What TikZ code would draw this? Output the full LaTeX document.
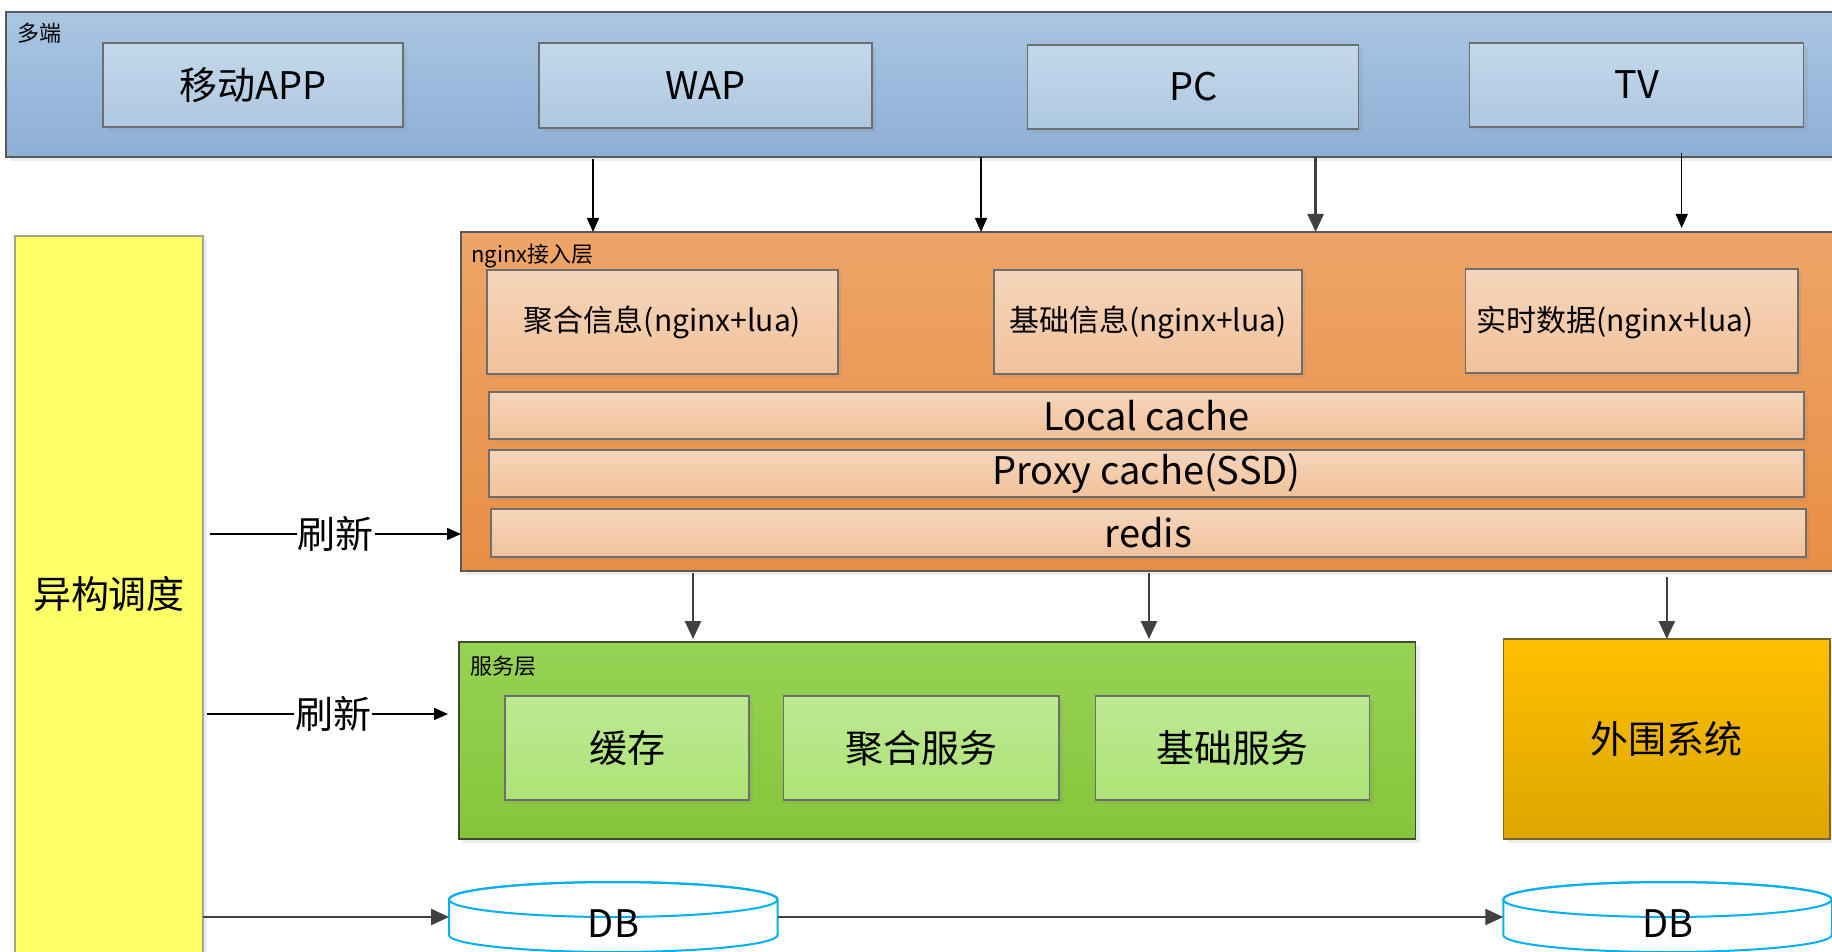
\documentclass[tikz,border=0pt]{standalone}
\usepackage{fontspec}
\setmainfont{Noto Sans CJK SC}
\usetikzlibrary{arrows.meta,shadows}
\definecolor{bord}{HTML}{595959}
\definecolor{inbord}{HTML}{6E6E6E}
\definecolor{blueT}{HTML}{A9C6E2}
\definecolor{blueB}{HTML}{8EAFD5}
\definecolor{bluiT}{HTML}{C4D8EB}
\definecolor{bluiB}{HTML}{AEC8E1}
\definecolor{orT}{HTML}{EDA568}
\definecolor{orB}{HTML}{E88E45}
\definecolor{peT}{HTML}{F6D5BA}
\definecolor{peB}{HTML}{F1C29B}
\definecolor{grT}{HTML}{96D254}
\definecolor{grB}{HTML}{84C63A}
\definecolor{grbord}{HTML}{3F4A30}
\definecolor{lgT}{HTML}{BEE993}
\definecolor{lgB}{HTML}{ACE376}
\definecolor{yel}{HTML}{FFFF66}
\definecolor{yelbord}{HTML}{A5A58A}
\definecolor{exT}{HTML}{FFC000}
\definecolor{exB}{HTML}{DDA600}
\definecolor{exbord}{HTML}{7A6530}
\definecolor{dbc}{HTML}{00B0F0}
\definecolor{arrg}{HTML}{404040}
\newcommand\mydbcyl[1]{%
  \draw[dbline, fill=white] (#1-164.25,899.5) -- (#1-164.25,935)
    arc[start angle=180, end angle=0, x radius=164.25, y radius=17]
    -- (#1+164.25,899.5)
    arc[start angle=0, end angle=-180, x radius=164.25, y radius=17.5] -- cycle;
  \draw[dbline] (#1,899.5) ellipse[x radius=164.25, y radius=17.5];}
\begin{document}
\begin{tikzpicture}[x=1pt,y=-1pt,
  big/.style={font=\fontsize{38pt}{40pt}\selectfont},
  mid/.style={font=\fontsize{30pt}{32pt}\selectfont},
  small/.style={font=\fontsize{22pt}{24pt}\selectfont},
  boxbase/.style={rectangle, inner sep=0pt, outer sep=0pt, line width=1.3pt, draw=bord},
  shd/.style={drop shadow={opacity=0.14, shadow xshift=4pt, shadow yshift=-4pt}},
  bluebox/.style={boxbase, top color=blueT, bottom color=blueB, shd},
  blueinner/.style={boxbase, draw=inbord, top color=bluiT, bottom color=bluiB, shd, big},
  orbox/.style={boxbase, top color=orT, bottom color=orB, shd},
  peinner/.style={boxbase, draw=inbord, top color=peT, bottom color=peB, shd},
  grbox/.style={boxbase, draw=grbord, top color=grT, bottom color=grB, shd},
  lginner/.style={boxbase, draw=inbord, top color=lgT, bottom color=lgB, shd, big},
  yelbox/.style={boxbase, draw=yelbord, fill=yel, shd},
  extbox/.style={boxbase, draw=exbord, top color=exT, bottom color=exB, shd, big},
  dbline/.style={draw=dbc, line width=2pt},
  barr/.style={draw=black, line width=1.5pt, -{Triangle[length=14pt,width=12pt]}},
  garr/.style={draw=arrg, line width=2.5pt, -{Triangle[length=18pt,width=16pt]}},
  lbl/.style={fill=white, inner sep=1pt, big},
  tag/.style={anchor=west, inner sep=0pt, small}
]
\useasboundingbox (0,0) rectangle (1832,952);
\clip (0,0) rectangle (1832,952);
\fill[white] (0,0) rectangle (1832,952);

% client layer
\node[bluebox, minimum width=1839pt, minimum height=145pt] (dd) at (925.5,84.5) {};
\node[tag] (ddt) at (17,33) {多端};
\node[blueinner, minimum width=300pt, minimum height=84pt] (app) at (253,85) {移动APP};
\node[blueinner, minimum width=333pt, minimum height=85pt] (wap) at (705.5,85.5) {WAP};
\node[blueinner, minimum width=331pt, minimum height=84pt] (pc) at (1193.3,87) {PC};
\node[blueinner, minimum width=334pt, minimum height=84pt] (tv) at (1636.6,85) {TV};

% nginx layer
\node[orbox, minimum width=1384pt, minimum height=339pt] (ng) at (1153,401.5) {};
\node[tag] (ngt) at (471,256) {nginx接入层};
\node[peinner, mid, minimum width=351pt, minimum height=104pt] (jh) at (662.5,322) {聚合信息(nginx+lua)};
\node[peinner, mid, minimum width=308pt, minimum height=104pt] (jc) at (1148,322) {基础信息(nginx+lua)};
\node[peinner, mid, minimum width=332.5pt, minimum height=104pt] (ss) at (1631.75,321) {};
\node[mid, inner sep=0pt] (sst) at (1615,323) {实时数据(nginx+lua)};
\node[peinner, big, minimum width=1315pt, minimum height=47pt] (lc) at (1146.5,415.5) {Local cache};
\node[peinner, big, minimum width=1315pt, minimum height=47pt] (pxc) at (1146.5,473.5) {Proxy cache(SSD)};
\node[peinner, big, minimum width=1315pt, minimum height=48pt] (rd) at (1148.5,533) {redis};

% scheduler
\node[yelbox, minimum width=188pt, minimum height=724pt] (ys) at (109,598) {};
\node[big, inner sep=0pt] (yst) at (109,594) {异构调度};

% service layer
\node[grbox, minimum width=956.7pt, minimum height=197pt] (fw) at (937.35,740.5) {};
\node[tag] (fwt) at (470,666) {服务层};
\node[lginner, minimum width=244pt, minimum height=104pt] (hc) at (627,748) {缓存};
\node[lginner, minimum width=275.5pt, minimum height=104pt] (jhfw) at (921.25,748) {聚合服务};
\node[lginner, minimum width=274pt, minimum height=104pt] (jcfw) at (1232.55,748) {基础服务};

% external
\node[extbox, minimum width=326.4pt, minimum height=200pt] (ext) at (1666.8,739) {外围系统};

% databases
\mydbcyl{613.25}
\mydbcyl{1667.5}
\node[minimum width=328.5pt, minimum height=70pt, inner sep=0pt, outer sep=0pt] (db1) at (613.25,917) {};
\node[minimum width=328.5pt, minimum height=70pt, inner sep=0pt, outer sep=0pt] (db2) at (1667.5,917) {};
\node[big, inner sep=0pt] (db1t) at (613.5,924) {DB};
\node[big, inner sep=0pt] (db2t) at (1667.7,924) {DB};

% helper x positions
\coordinate (a1) at (593,0);
\coordinate (a2) at (981,0);
\coordinate (a3) at (1315.6,0);
\coordinate (a4) at (1681.7,0);
\coordinate (b1) at (693,0);
\coordinate (b2) at (1149,0);
\coordinate (r1s) at (210,534);
\coordinate (r2s) at (207,714);

% connectors
\draw[barr, shorten <=2pt] (dd.south -| a1) -- (ng.north -| a1);
\draw[barr] (dd.south -| a2) -- (ng.north -| a2);
\draw[garr] (dd.south -| a3) -- (ng.north -| a3);
\draw[barr, shorten <=-4pt, shorten >=4pt] (dd.south -| a4) -- (ng.north -| a4);

\draw[barr] (r1s) -- node[lbl] (lb1) {刷新} (r1s -| ng.west);
\draw[barr, shorten >=11pt] (r2s) -- node[lbl] (lb2) {刷新} (r2s -| fw.west);

\draw[garr, shorten <=2pt, shorten >=3pt] (ng.south -| b1) -- (fw.north -| b1);
\draw[garr, shorten <=2pt, shorten >=3pt] (ng.south -| b2) -- (fw.north -| b2);
\draw[garr, shorten <=6pt] (ng.south -| ext.north) -- (ext.north);

\draw[garr] (ys.east |- db1.west) -- (db1.west);
\draw[garr] (db1.east) -- (db2.west);
\end{tikzpicture}
\end{document}
